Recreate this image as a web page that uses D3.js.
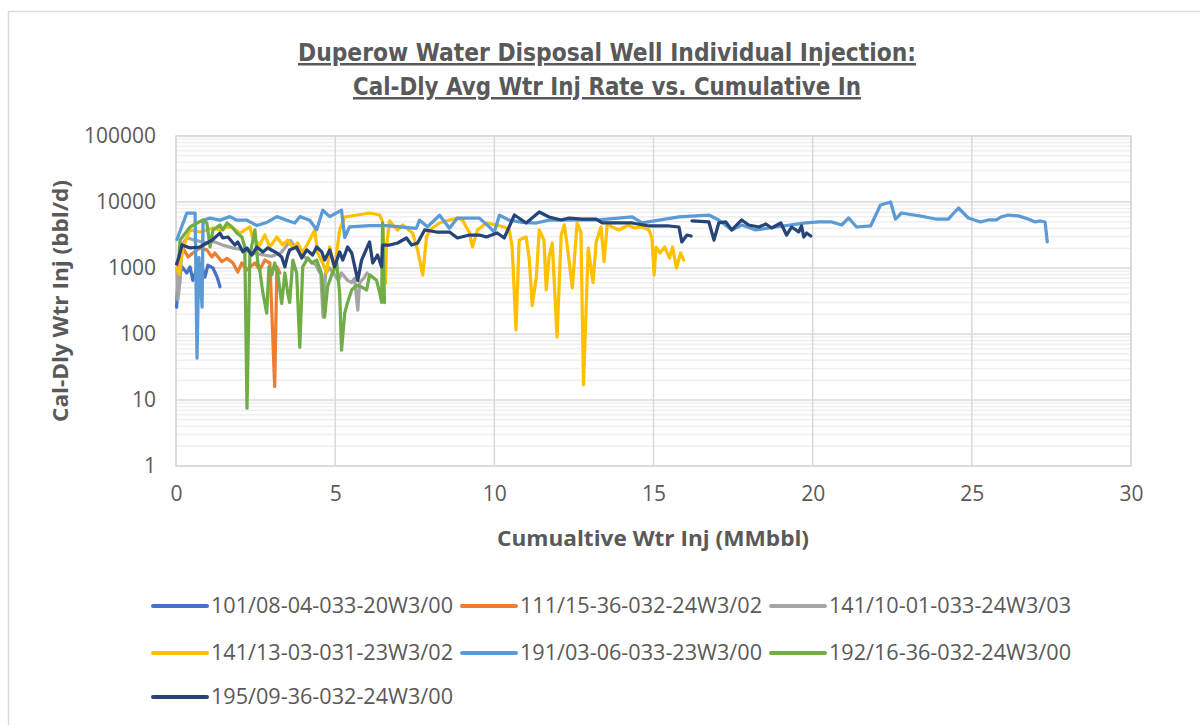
<!DOCTYPE html>
<html>
<head>
<meta charset="utf-8">
<script src="https://cdn.jsdelivr.net/npm/d3@7"></script>
<style>
  body { margin: 0; background: #fff; }
  text { fill: #595959; }
</style>
</head>
<body>
<div id="chart"></div>
<script>
// data: each well is a list of [cumulative water injected (MMbbl), cal-dly avg rate (bbl/d)]
const wellNames = [
  '101/08-04-033-20W3/00',
  '111/15-36-032-24W3/02',
  '141/10-01-033-24W3/03',
  '141/13-03-031-23W3/02',
  '191/03-06-033-23W3/00',
  '192/16-36-032-24W3/00',
  '195/09-36-032-24W3/00',
]
const wellColors = ['#4472c4', '#ed7d31', '#a5a5a5', '#ffc000', '#5b9bd5', '#70ad47', '#264478']

const well101 = [
  [0.02, 255], [0.06, 700], [0.19, 1040], [0.34, 840], [0.44, 1040], [0.53, 650],
  [0.66, 1000], [0.82, 1040], [0.91, 730], [1.0, 1100], [1.16, 1000], [1.29, 730],
  [1.35, 590], [1.38, 520],
]
const well111 = [
  [0.06, 1040], [0.13, 1320], [0.22, 2010], [0.38, 1470], [0.53, 1690], [0.75, 2010],
  [0.97, 1880], [1.13, 1470], [1.22, 1690], [1.44, 1250], [1.6, 1400], [1.79, 1190],
  [1.94, 870], [2.07, 1190], [2.23, 935], [2.32, 1040], [2.48, 1190], [2.63, 935],
  [2.79, 1320], [2.95, 1190], [3.1, 16], [3.17, 1040], [3.26, 840],
]
const well141a = [
  [0.03, 1000], [0.06, 330], [0.13, 650], [0.19, 2230], [0.34, 2850], [0.6, 2650],
  [0.9, 2400], [1.2, 2500], [1.5, 2200], [1.8, 2000], [2.1, 1900], [2.4, 1700],
  [2.7, 1600], [3.0, 1500], [3.3, 1700], [3.6, 2600], [3.8, 1900], [4.0, 1500],
  [4.2, 1300], [4.4, 1100], [4.55, 790], [4.62, 180], [4.7, 840], [4.83, 1000],
  [4.98, 790], [5.1, 650], [5.2, 840], [5.39, 650], [5.52, 600], [5.61, 700],
  [5.71, 230], [5.77, 600], [5.9, 700], [6.0, 840],
]
const well141b = [
  [0.03, 1000], [0.09, 800], [0.22, 2010], [0.44, 3770], [0.75, 3510], [0.97, 3770],
  [1.16, 4040], [1.38, 3770], [1.6, 4180], [1.79, 4040], [2.01, 3390], [2.16, 3770],
  [2.32, 4180], [2.41, 2850], [2.63, 2230], [2.79, 3160], [2.95, 2080], [3.17, 2950],
  [3.35, 2230], [3.51, 2650], [3.67, 2010], [3.82, 2390], [3.98, 1700], [4.2, 2650],
  [4.36, 3770], [4.45, 1690], [4.61, 1190], [4.73, 840], [4.83, 2080], [4.98, 935],
  [5.14, 3770], [5.3, 5900], [5.7, 6350], [6.08, 6810], [6.4, 6350], [6.49, 4980],
  [6.58, 590], [6.61, 2080], [6.71, 5160], [6.96, 3770], [7.12, 4480], [7.43, 3390],
  [7.59, 1880], [7.75, 780], [7.87, 2950], [7.97, 3770], [8.28, 4810], [8.59, 5340],
  [8.84, 5720], [9.0, 5340], [9.22, 3390], [9.31, 2080], [9.47, 3770], [9.75, 4810],
  [10.06, 4480], [10.31, 4180], [10.47, 3770], [10.56, 2080], [10.68, 115], [10.78, 2650],
  [11.0, 2950], [11.1, 1320], [11.19, 270], [11.32, 730], [11.41, 3770], [11.56, 2650],
  [11.63, 465], [11.72, 1470], [11.82, 2390], [11.97, 90], [12.1, 3160], [12.2, 4500],
  [12.3, 2000], [12.45, 500], [12.6, 4800], [12.72, 3500], [12.8, 17], [12.95, 2000],
  [13.1, 600], [13.2, 2480], [13.35, 4180], [13.45, 1250], [13.55, 4810], [13.7, 4180],
  [13.92, 3770], [14.2, 4480], [14.4, 4040], [14.64, 4180], [14.86, 3770], [14.95, 2850],
  [15.02, 790], [15.08, 2080], [15.2, 1690], [15.35, 2080], [15.5, 1420], [15.6, 2080],
  [15.72, 1000], [15.85, 1690], [15.95, 1320],
]
const well191 = [
  [0.03, 2700], [0.34, 6800], [0.6, 6800], [0.66, 43], [0.72, 1450], [0.82, 255],
  [0.85, 5300], [1.07, 5700], [1.38, 5300], [1.69, 6000], [1.91, 5300], [2.23, 5300],
  [2.54, 4400], [2.85, 4900], [3.17, 6000], [3.48, 5300], [3.73, 4800], [3.89, 6000],
  [4.2, 5300], [4.42, 3800], [4.61, 7500], [4.83, 6000], [5.2, 7500], [5.3, 2900],
  [5.45, 4200], [6.08, 4400], [6.61, 4400], [7.55, 4000], [7.65, 5300], [7.9, 4200],
  [8.28, 6300], [8.59, 4000], [8.84, 5700], [9.53, 5700], [9.84, 4200], [10.0, 3500],
  [10.16, 6300], [10.47, 5300], [10.88, 4900], [11.32, 4800], [11.72, 5300], [13.29, 5340],
  [14.33, 5930], [14.64, 4810], [15.8, 5930], [16.74, 6350], [17.05, 5340], [17.46, 3770],
  [17.77, 4480], [18.21, 3770], [18.84, 4180], [19.78, 4810], [20.19, 4980], [20.6, 4980],
  [20.91, 4480], [21.13, 5720], [21.38, 4180], [21.82, 4330], [22.13, 9020], [22.45, 10000],
  [22.6, 5520], [22.79, 6810], [23.54, 5930], [23.86, 5520], [24.26, 5520], [24.58, 8110],
  [24.89, 5720], [25.27, 4980], [25.52, 5340], [25.77, 5340], [25.92, 5930], [26.14, 6350],
  [26.46, 6160], [26.77, 5520], [26.99, 4980], [27.15, 5160], [27.3, 4980], [27.37, 2480],
]
const well192 = [
  [0.09, 1470], [0.13, 2650], [0.44, 4180], [0.66, 4810], [0.85, 5340], [0.97, 4810],
  [1.07, 2080], [1.16, 3770], [1.38, 4480], [1.47, 3770], [1.6, 4810], [1.76, 4180],
  [1.91, 3390], [2.07, 2950], [2.16, 2080], [2.23, 7.5], [2.32, 1570], [2.48, 3770],
  [2.57, 1190], [2.63, 935], [2.73, 420], [2.85, 207], [2.92, 1040], [3.01, 790],
  [3.1, 1190], [3.2, 790], [3.32, 290], [3.42, 840], [3.51, 420], [3.57, 300],
  [3.67, 1320], [3.79, 840], [3.89, 63], [3.98, 1040], [4.14, 1420], [4.26, 1190],
  [4.42, 1320], [4.58, 790], [4.67, 180], [4.76, 515], [4.89, 790], [5.05, 1190],
  [5.14, 420], [5.2, 57], [5.3, 207], [5.39, 300], [5.52, 465], [5.67, 545],
  [5.83, 515], [5.99, 465], [6.08, 790], [6.3, 650], [6.4, 420], [6.46, 300],
  [6.49, 4810], [6.55, 300],
]
const well195 = [
  [0.02, 1150], [0.09, 1470], [0.19, 2230], [0.44, 2010], [0.75, 2080], [0.97, 2390],
  [1.13, 2640], [1.38, 3380], [1.47, 2850], [1.63, 2950], [1.85, 2230], [1.94, 2480],
  [2.1, 1760], [2.23, 2010], [2.38, 1570], [2.54, 2080], [2.73, 1750], [2.88, 2010],
  [3.17, 1690], [3.32, 1470], [3.42, 1040], [3.51, 1570], [3.57, 1880], [3.79, 2080],
  [3.95, 1420], [4.11, 1880], [4.29, 1570], [4.42, 2080], [4.58, 1750], [4.67, 1320],
  [4.83, 1880], [4.98, 1040], [5.14, 1750], [5.24, 1320], [5.39, 2080], [5.52, 1690],
  [5.71, 650], [5.83, 1320], [6.08, 2480], [6.18, 1190], [6.33, 1570], [6.46, 1040],
  [6.49, 2230], [6.71, 2230], [6.96, 2390], [7.24, 2850], [7.4, 2230], [7.59, 2390],
  [7.81, 3770], [8.18, 3510], [8.59, 3510], [8.84, 2850], [9.22, 3160], [9.53, 3160],
  [9.75, 2950], [10.09, 3390], [10.31, 2850], [10.63, 6350], [11.0, 4810], [11.41, 7050],
  [11.72, 5930], [12.1, 5340], [12.35, 5720], [12.76, 5520], [13.2, 5520], [13.39, 4810],
  [13.92, 4810], [14.33, 4810], [14.86, 4330], [15.49, 4330], [15.8, 4180], [15.89, 2480],
  [16.05, 3160], [16.18, 3050], [16.2, null], [16.21, 5160], [16.74, 4980], [16.9, 2650],
  [17.05, 4810], [17.27, 4980], [17.46, 3770], [17.77, 5340], [17.99, 4480], [18.31, 4180],
  [18.53, 4640], [18.71, 4040], [19.0, 4810], [19.18, 3160], [19.34, 4180], [19.56, 3510],
  [19.65, 4330], [19.72, 2950], [19.81, 3390], [19.94, 3050],
]
const wellValues = [well101, well111, well141a, well141b, well191, well192, well195]

const xTicks = [0, 5, 10, 15, 20, 25, 30]
const yTicks = [1, 10, 100, 1000, 10000, 100000]

const titleLines = [
  'Duperow Water Disposal Well Individual Injection:',
  'Cal-Dly Avg Wtr Inj Rate vs. Cumulative In',
]

// size
const W = 1200
const H = 725
const plotLeft = 176
const plotRight = 1131
const plotTop = 136
const plotBottom = 466

// scale
const x = d3.scaleLinear().domain([0, 30]).range([plotLeft, plotRight])
const y = d3.scaleLog().domain([1, 100000]).range([plotBottom, plotTop])

const svg = d3
  .select('#chart')
  .append('svg')
  .attr('width', W)
  .attr('height', H)
  .style('font-family', "'Open Sans', sans-serif")

// chart frame
svg
  .append('rect')
  .attr('x', 8.5)
  .attr('y', 11.5)
  .attr('width', W + 10)
  .attr('height', H + 10)
  .attr('fill', '#fff')
  .attr('stroke', '#d9d9d9')
  .attr('stroke-width', 1.5)

// title
titleLines.forEach((t, i) => {
  svg
    .append('text')
    .attr('x', 607)
    .attr('y', 61 + i * 34)
    .attr('text-anchor', 'middle')
    .attr('font-family', "'Liberation Sans Narrow', 'DejaVu Sans Condensed', sans-serif")
    .attr('font-size', '25px')
    .attr('font-weight', 'bold')
    .attr('textLength', i === 0 ? 618 : 508)
    .attr('lengthAdjust', 'spacingAndGlyphs')
    .style('text-decoration', 'underline')
    .text(t)
})

// minor gridlines
const minor = []
for (let d = 1; d < 100000; d *= 10) {
  for (let k = 2; k <= 9; k++) minor.push(k * d)
}
svg
  .append('g')
  .selectAll('line')
  .data(minor)
  .join('line')
  .attr('x1', plotLeft)
  .attr('x2', plotRight)
  .attr('y1', d => y(d))
  .attr('y2', d => y(d))
  .attr('stroke', '#efefef')
  .attr('stroke-width', 1.5)

// major gridlines
svg
  .append('g')
  .selectAll('line')
  .data(yTicks)
  .join('line')
  .attr('x1', plotLeft)
  .attr('x2', plotRight)
  .attr('y1', d => y(d))
  .attr('y2', d => y(d))
  .attr('stroke', '#d9d9d9')
  .attr('stroke-width', 1.5)

svg
  .append('g')
  .selectAll('line')
  .data(xTicks)
  .join('line')
  .attr('x1', d => x(d))
  .attr('x2', d => x(d))
  .attr('y1', plotTop)
  .attr('y2', plotBottom)
  .attr('stroke', '#d9d9d9')
  .attr('stroke-width', 1.5)

// plot border
svg
  .append('rect')
  .attr('x', plotLeft)
  .attr('y', plotTop)
  .attr('width', plotRight - plotLeft)
  .attr('height', plotBottom - plotTop)
  .attr('fill', 'none')
  .attr('stroke', '#d9d9d9')
  .attr('stroke-width', 1.5)

// x-axis
const xAxis = svg
  .append('g')
  .attr('transform', `translate(0, ${plotBottom})`)
  .call(d3.axisBottom(x).tickValues(xTicks).tickSize(0).tickPadding(20).tickFormat(d3.format('d')))
xAxis.select('.domain').remove()
xAxis.selectAll('text').attr('font-size', '21px').attr('font-family', "'Open Sans', sans-serif").attr('fill', '#595959')

// y-axis
const yAxis = svg
  .append('g')
  .attr('transform', `translate(${plotLeft}, 0)`)
  .call(d3.axisLeft(y).tickValues(yTicks).tickSize(0).tickPadding(20).tickFormat(d3.format('d')))
yAxis.select('.domain').remove()
yAxis.selectAll('text').attr('font-size', '21px').attr('font-family', "'Open Sans', sans-serif").attr('fill', '#595959')

// axis titles
svg
  .append('text')
  .attr('x', 653)
  .attr('y', 546)
  .attr('text-anchor', 'middle')
  .attr('font-size', '22px')
  .attr('font-weight', 'bold')
  .attr('textLength', 312)
  .attr('lengthAdjust', 'spacingAndGlyphs')
  .text('Cumualtive Wtr Inj (MMbbl)')

svg
  .append('text')
  .attr('text-anchor', 'middle')
  .attr('font-size', '22px')
  .attr('font-weight', 'bold')
  .attr('textLength', 242)
  .attr('lengthAdjust', 'spacingAndGlyphs')
  .attr('transform', `translate(68, 301) rotate(-90)`)
  .text('Cal-Dly Wtr Inj (bbl/d)')

// lines
const line = d3
  .line()
  .defined(d => d[1] !== null)
  .x(d => x(d[0]))
  .y(d => y(d[1]))

svg
  .append('g')
  .selectAll('path')
  .data(wellValues)
  .join('path')
  .attr('d', d => line(d))
  .attr('fill', 'none')
  .attr('stroke', (d, i) => wellColors[i])
  .attr('stroke-width', 3.25)
  .attr('stroke-linejoin', 'round')
  .attr('stroke-linecap', 'round')

// legend
const legendCols = [153, 462, 771]
const legendRows = [606, 653, 697]
wellNames.forEach((name, i) => {
  const lx = legendCols[i % 3]
  const ly = legendRows[Math.floor(i / 3)]
  const row = svg.append('g')
  row
    .append('line')
    .attr('x1', lx)
    .attr('x2', lx + 54)
    .attr('y1', ly)
    .attr('y2', ly)
    .attr('stroke', wellColors[i])
    .attr('stroke-width', 4)
    .attr('stroke-linecap', 'round')
  row
    .append('text')
    .attr('x', lx + 58)
    .attr('y', ly + 7)
    .attr('font-size', '21px')
    .attr('textLength', 242)
    .attr('lengthAdjust', 'spacingAndGlyphs')
    .text(name)
})
</script>
</body>
</html>
